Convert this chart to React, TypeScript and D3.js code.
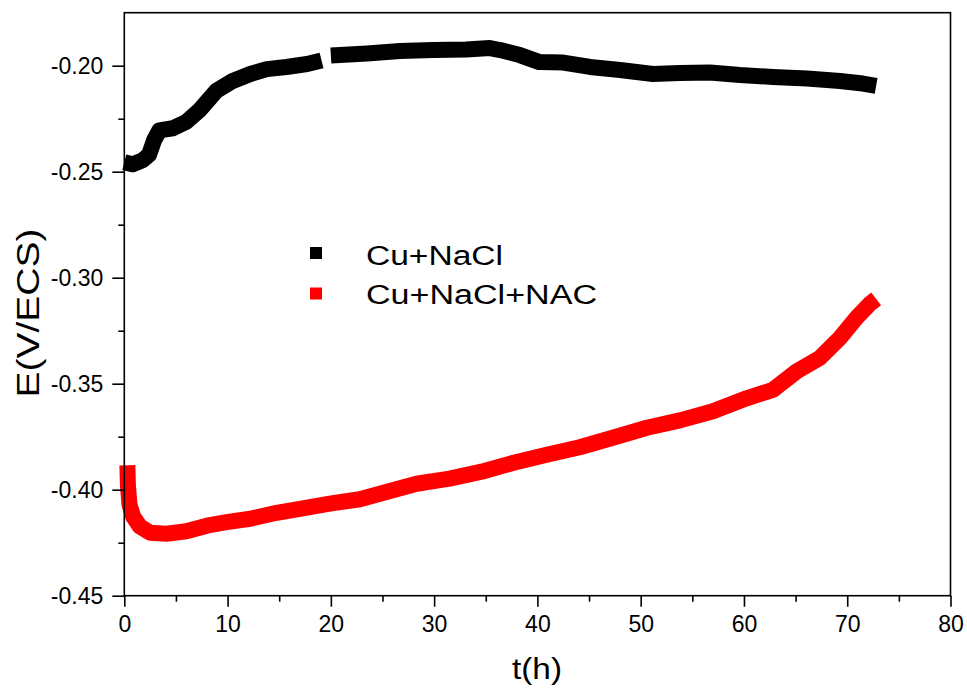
import React, { useEffect, useRef } from 'react';
import * as d3 from 'd3';

// Cu+NaCl, first stretch (there is a gap near t = 19-20 h)
const blackT1 = [0, 0.8, 1.8, 2.4, 2.9, 3.4, 4.7, 6.0, 7.3, 8.9, 10.5, 12.2, 13.8, 15.7, 17.7, 19.1];
const blackE1 = [-0.2455, -0.2465, -0.2445, -0.242, -0.235, -0.2305, -0.2295, -0.2265, -0.2209, -0.2119, -0.2072, -0.2039, -0.2016, -0.2006, -0.1992, -0.1975];
// Cu+NaCl, second stretch
const blackT2 = [20.0, 23.5, 26.7, 29.9, 33.1, 35.4, 36.4, 38.3, 40.2, 42.5, 45.1, 48, 51.2, 53.8, 56.7, 59.6, 62.8, 66.1, 69.3, 71.5, 72.8];
const blackE2 = [-0.1952, -0.1942, -0.1931, -0.1926, -0.1924, -0.1917, -0.1926, -0.195, -0.1983, -0.1985, -0.2006, -0.202, -0.2039, -0.2034, -0.2032, -0.2044, -0.2053, -0.206, -0.2072, -0.2084, -0.2095];
// Cu+NaCl+NAC
const redT = [0.3, 0.35, 0.5, 0.87, 1.5, 2.5, 4.1, 6.0, 8.0, 9.9, 12.2, 14.75, 17, 19.9, 22.8, 25.1, 28.3, 31.5, 34.6, 37.7, 40.9, 44.1, 47.3, 50.6, 53.8, 57.0, 60.25, 62.8, 65.1, 67.35, 69.3, 70.9, 72.2, 72.8];
const redE = [-0.3885, -0.398, -0.407, -0.4128, -0.4173, -0.4203, -0.4208, -0.4196, -0.417, -0.4153, -0.4137, -0.4109, -0.409, -0.4066, -0.4045, -0.4014, -0.3972, -0.3948, -0.3915, -0.3873, -0.3835, -0.38, -0.3755, -0.3708, -0.3673, -0.363, -0.3569, -0.3529, -0.3442, -0.3378, -0.3284, -0.3189, -0.3123, -0.31];

const xTicks = [0, 10, 20, 30, 40, 50, 60, 70, 80];
const xMinor = [5, 15, 25, 35, 45, 55, 65, 75];
const yTicks = [-0.45, -0.4, -0.35, -0.3, -0.25, -0.2];
const yMinor = [-0.425, -0.375, -0.325, -0.275, -0.225];

const legendNames = ['Cu+NaCl', 'Cu+NaCl+NAC'];
const legendColors = ['#000000', '#ff0000'];

const W = 967;
const H = 689;
const FONT = '"Liberation Sans", Arial, sans-serif';

const App = () => {
  const svgRef = useRef(null);

  useEffect(() => {
    document.body.style.margin = '0';
    if (!svgRef.current) return;
    const svg = d3.select(svgRef.current);
    svg.selectAll('*').remove();

    const x = d3.scaleLinear().domain([0, 80]).range([124.3, 950.5]);
    const y = d3.scaleLinear().domain([-0.45, -0.175]).range([595.7, 12.7]);

    const line = d3.line<[number, number]>()
      .x(d => x(d[0]))
      .y(d => y(d[1]));

    const zip = (t, e) => t.map((v, i) => [v, e[i]] as [number, number]);

    // series bands
    [[blackT1, blackE1, '#000000'], [blackT2, blackE2, '#000000'], [redT, redE, '#ff0000']].forEach(([t, e, c]) => {
      svg.append('path')
        .attr('d', line(zip(t, e)))
        .attr('fill', 'none')
        .attr('stroke', c as string)
        .attr('stroke-width', 16)
        .attr('stroke-linejoin', 'round');
    });

    // frame
    svg.append('rect')
      .attr('x', x(0))
      .attr('y', y(-0.175))
      .attr('width', x(80) - x(0))
      .attr('height', y(-0.45) - y(-0.175))
      .attr('fill', 'none')
      .attr('stroke', '#000')
      .attr('stroke-width', 1.6);

    // x axis
    const gx = svg.append('g').attr('transform', `translate(0,${y(-0.45)})`);
    gx.call(d3.axisBottom(x).tickValues(xTicks).tickSize(11).tickPadding(9).tickFormat(d => String(d)));
    gx.append('g').call(d3.axisBottom(x).tickValues(xMinor).tickSize(6).tickFormat(() => ''));

    // y axis
    const gy = svg.append('g').attr('transform', `translate(${x(0)},0)`);
    gy.call(d3.axisLeft(y).tickValues(yTicks).tickSize(12).tickPadding(9).tickFormat(d => (+d).toFixed(2)));
    gy.append('g').call(d3.axisLeft(y).tickValues(yMinor).tickSize(6).tickFormat(() => ''));

    svg.selectAll('.domain').remove();
    svg.selectAll('.tick line').attr('stroke', '#000').attr('stroke-width', 1.6);
    svg.selectAll('.tick text')
      .attr('fill', '#000')
      .style('font-family', FONT)
      .style('font-size', '23px');

    // axis titles
    svg.append('text')
      .attr('x', 537)
      .attr('y', 679)
      .attr('text-anchor', 'middle')
      .attr('textLength', 50)
      .attr('lengthAdjust', 'spacingAndGlyphs')
      .style('font-family', FONT)
      .style('font-size', '29px')
      .text('t(h)');

    svg.append('text')
      .attr('transform', 'translate(39,313) rotate(-90)')
      .attr('text-anchor', 'middle')
      .attr('textLength', 169)
      .attr('lengthAdjust', 'spacingAndGlyphs')
      .style('font-family', FONT)
      .style('font-size', '31px')
      .text('E(V/ECS)');

    // legend
    const legendWidths = [137, 231];
    const lg = svg.append('g');
    legendNames.forEach((name, i) => {
      lg.append('rect')
        .attr('x', 310)
        .attr('y', 247 + i * 40.5)
        .attr('width', 12)
        .attr('height', 12)
        .attr('fill', legendColors[i]);
      lg.append('text')
        .attr('x', 366)
        .attr('y', 265 + i * 39)
        .attr('textLength', legendWidths[i])
        .attr('lengthAdjust', 'spacingAndGlyphs')
        .style('font-family', FONT)
        .style('font-size', '27px')
        .text(name);
    });
  }, []);

  return (
    <div>
      <svg ref={svgRef} width={W} height={H} style={{ display: 'block', background: '#fff' }}></svg>
    </div>
  );
};

export default App;
